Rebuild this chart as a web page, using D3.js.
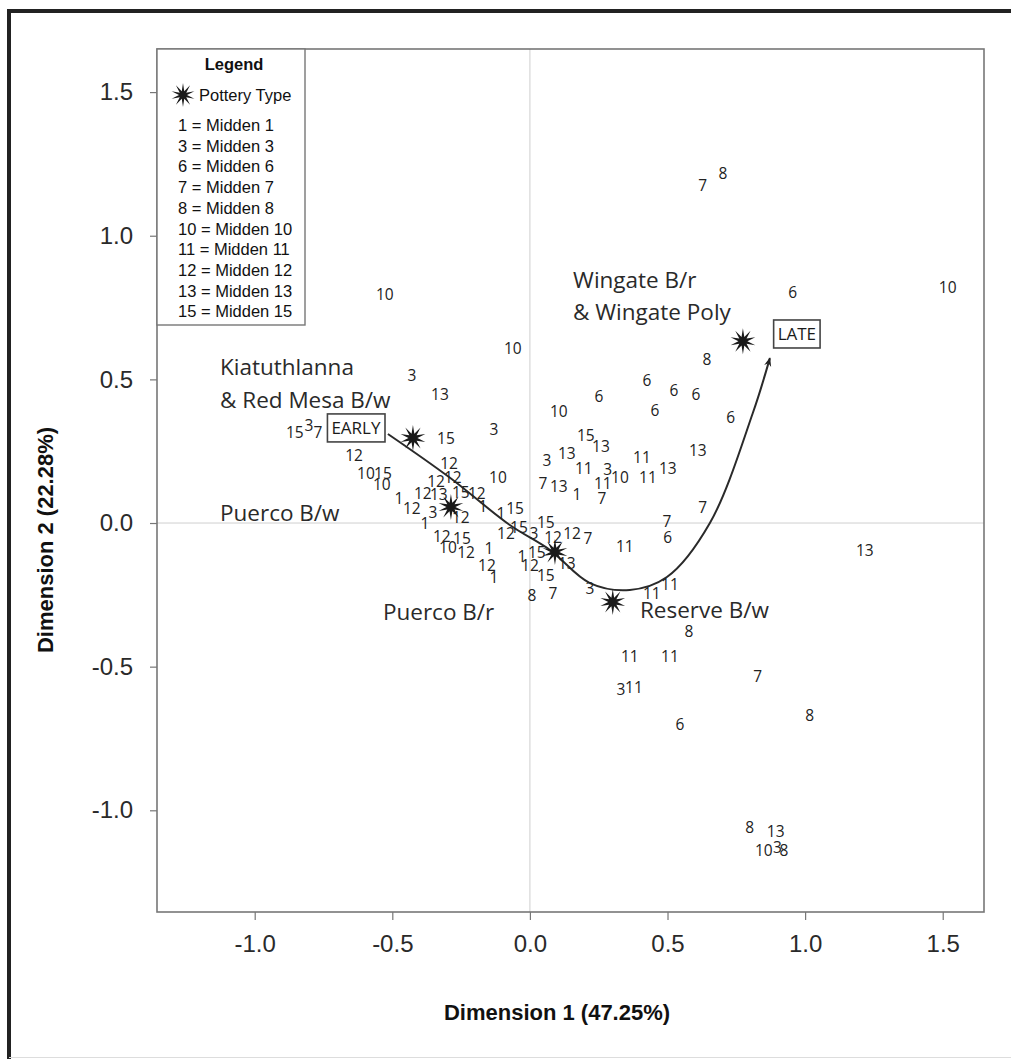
<!DOCTYPE html>
<html>
<head>
<meta charset="utf-8">
<script src="https://cdn.jsdelivr.net/npm/d3@7"></script>
<style>
  html, body { margin: 0; padding: 0; background: #fff; }
  svg { display: block; }
</style>
</head>
<body>
<svg id="chart" width="1011" height="1059"></svg>
<script>
// Correspondence analysis: midden samples (labelled by midden number) and pottery types
const midden = [
  10, 10, 7, 8, 6, 10, 8, 3, 13, 6,
  6, 6, 6, 6, 10, 6, 15, 3, 7, 15,
  3, 15, 13, 13, 12, 3, 13, 11, 11, 3,
  10, 11, 13, 12, 10, 15, 10, 12, 12, 10,
  11, 7, 13, 1, 7, 7, 1, 12, 12, 13,
  15, 12, 3, 1, 12, 1, 1, 15, 15, 12,
  15, 3, 12, 12, 7, 7, 6, 11, 12, 15,
  10, 12, 1, 12, 1, 1, 15, 12, 13, 15,
  3, 8, 7, 11, 11, 13, 8, 11, 11, 3,
  11, 7, 6, 8, 8, 13, 10, 3, 8
];
const dim1 = [
  -0.527, -0.062, 0.628, 0.701, 0.955, 1.518, 0.643, -0.429, -0.327, 0.425,
  0.523, 0.603, 0.251, 0.454, 0.105, 0.730, -0.854, -0.803, -0.770, -0.305,
  -0.131, 0.203, 0.258, 0.610, -0.639, 0.062, 0.134, 0.407, 0.196, 0.283,
  0.327, 0.429, 0.501, -0.294, -0.596, -0.534, -0.538, -0.341, -0.280, -0.116,
  0.265, 0.047, 0.105, 0.171, 0.262, 0.628, -0.476, -0.429, -0.389, -0.331,
  -0.251, -0.193, -0.352, -0.381, -0.251, -0.171, -0.105, -0.054, 0.058, -0.087,
  -0.040, 0.015, 0.084, 0.153, 0.211, 0.498, 0.501, 0.345, -0.320, -0.247,
  -0.298, -0.232, -0.149, -0.156, -0.131, -0.029, 0.025, 0.000, 0.134, 0.058,
  0.218, 0.007, 0.084, 0.443, 0.509, 1.217, 0.578, 0.363, 0.509, 0.331,
  0.378, 0.828, 0.545, 1.017, 0.799, 0.893, 0.850, 0.899, 0.923
];
const dim2 = [
  0.794, 0.609, 1.176, 1.218, 0.801, 0.821, 0.571, 0.515, 0.446, 0.498,
  0.463, 0.446, 0.439, 0.393, 0.390, 0.369, 0.317, 0.341, 0.317, 0.296,
  0.327, 0.306, 0.268, 0.254, 0.237, 0.219, 0.244, 0.230, 0.191, 0.188,
  0.160, 0.160, 0.191, 0.209, 0.171, 0.174, 0.136, 0.146, 0.160, 0.157,
  0.139, 0.139, 0.129, 0.101, 0.087, 0.056, 0.087, 0.052, 0.104, 0.101,
  0.108, 0.104, 0.038, 0.000, 0.021, 0.059, 0.035, 0.052, 0.003, -0.035,
  -0.014, -0.035, -0.049, -0.035, -0.052, 0.007, -0.049, -0.080, -0.045, -0.052,
  -0.084, -0.101, -0.087, -0.146, -0.188, -0.118, -0.101, -0.146, -0.139, -0.181,
  -0.226, -0.251, -0.244, -0.244, -0.212, -0.097, -0.376, -0.466, -0.463, -0.578,
  -0.571, -0.533, -0.700, -0.668, -1.060, -1.075, -1.140, -1.128, -1.140
];

// Pottery-type centroids
const potteryX = [-0.425, -0.287, 0.091, 0.301, 0.774];
const potteryY = [0.296, 0.056, -0.101, -0.275, 0.633];

// Pottery-type captions (left edge, baseline)
const captionText = ["Kiatuthlanna", "& Red Mesa B/w", "Puerco B/w", "Puerco B/r", "Reserve B/w", "Wingate B/r", "& Wingate Poly"];
const captionX = [-1.126, -1.126, -1.126, -0.534, 0.400, 0.157, 0.157];
const captionY = [0.515, 0.400, 0.007, -0.338, -0.331, 0.818, 0.707];

// Seriation trend from early to late
const trendX = [-0.516, -0.294, -0.073, 0.073, 0.218, 0.363, 0.498, 0.654, 0.810, 0.872];
const trendY = [0.310, 0.160, -0.007, -0.094, -0.209, -0.233, -0.188, 0.000, 0.383, 0.574];

const endLabels = ["EARLY", "LATE"];
const endX = [-0.632, 0.970];
const endY = [0.331, 0.658];

const tickValues = [-1.0, -0.5, 0.0, 0.5, 1.0, 1.5];
const legendEntries = [1, 3, 6, 7, 8, 10, 11, 12, 13, 15];

const svg = d3.select("#chart");
const W = 1011, H = 1059;
const plot = { left: 157, top: 49, right: 984, bottom: 912 };

const x = d3.scaleLinear().domain([-1.355, 1.65]).range([plot.left, plot.right]);
const y = d3.scaleLinear().domain([-1.354, 1.65]).range([plot.bottom, plot.top]);

const labelFont = "'Open Sans', 'Noto Sans', sans-serif";
const axisFont = "'Liberation Sans', Arial, sans-serif";

// Page frame
svg.append("rect").attr("x", 0).attr("y", 0).attr("width", W).attr("height", H).attr("fill", "#fff");
svg.append("line").attr("x1", 9).attr("x2", W).attr("y1", 11).attr("y2", 11)
  .attr("stroke", "#222").attr("stroke-width", 4);
svg.append("line").attr("x1", 9).attr("x2", 9).attr("y1", 9).attr("y2", H)
  .attr("stroke", "#222").attr("stroke-width", 4);
svg.append("line").attr("x1", 9).attr("x2", W).attr("y1", 1057.5).attr("y2", 1057.5)
  .attr("stroke", "#ddd").attr("stroke-width", 1);

// Zero reference lines
svg.append("line").attr("x1", x(0)).attr("x2", x(0)).attr("y1", plot.top).attr("y2", plot.bottom)
  .attr("stroke", "#cfcfcf").attr("stroke-width", 1);
svg.append("line").attr("x1", plot.left).attr("x2", plot.right).attr("y1", y(0)).attr("y2", y(0))
  .attr("stroke", "#cfcfcf").attr("stroke-width", 1);

// Axes
const fmt = d => d.toFixed(1);
const gx = svg.append("g").attr("transform", `translate(0,${plot.bottom})`)
  .call(d3.axisBottom(x).tickValues(tickValues).tickFormat(fmt).tickSize(8).tickPadding(15));
const gy = svg.append("g").attr("transform", `translate(${plot.left},0)`)
  .call(d3.axisLeft(y).tickValues(tickValues).tickFormat(fmt).tickSize(7).tickPadding(17));
[gx, gy].forEach(g => {
  g.select(".domain").remove();
  g.selectAll(".tick line").attr("stroke", "#777").attr("stroke-width", 1.2);
  g.selectAll(".tick text").attr("font-family", axisFont).attr("font-size", 24).attr("fill", "#2a2a2a");
});

// Plot border
svg.append("rect").attr("x", plot.left).attr("y", plot.top)
  .attr("width", plot.right - plot.left).attr("height", plot.bottom - plot.top)
  .attr("fill", "none").attr("stroke", "#777").attr("stroke-width", 1.6);

// Axis titles
svg.append("text").attr("x", 557).attr("y", 1020).attr("text-anchor", "middle")
  .attr("font-family", "'Liberation Sans Narrow', 'Arial Narrow', sans-serif")
  .attr("font-weight", "bold").attr("font-size", 22).attr("fill", "#111")
  .text("Dimension 1 (47.25%)");
svg.append("text").attr("transform", "translate(53,540) rotate(-90)").attr("text-anchor", "middle")
  .attr("font-family", "'Liberation Sans Narrow', 'Arial Narrow', sans-serif")
  .attr("font-weight", "bold").attr("font-size", 22).attr("fill", "#111")
  .text("Dimension 2 (22.28%)");

// Star marker for pottery types
function starPath(rOut, rIn, n) {
  const pts = [];
  for (let i = 0; i < 2 * n; i++) {
    const r = i % 2 === 0 ? rOut : rIn;
    const a = Math.PI * i / n - Math.PI / 2;
    pts.push([r * Math.cos(a), r * Math.sin(a)]);
  }
  return "M" + pts.map(p => p[0].toFixed(2) + "," + p[1].toFixed(2)).join("L") + "Z";
}

// Trend curve with arrow
const defs = svg.append("defs");
defs.append("marker").attr("id", "arrow").attr("viewBox", "0 0 10 10")
  .attr("refX", 9).attr("refY", 5).attr("markerWidth", 9).attr("markerHeight", 9)
  .attr("markerUnits", "userSpaceOnUse").attr("orient", "auto")
  .append("path").attr("d", "M0,1 L10,5 L0,9 L3,5 Z").attr("fill", "#222");

const trend = d3.range(trendX.length).map(i => [x(trendX[i]), y(trendY[i])]);
svg.append("path").attr("d", d3.line().curve(d3.curveCatmullRom.alpha(0.5))(trend))
  .attr("fill", "none").attr("stroke", "#2a2a2a").attr("stroke-width", 2)
  .attr("marker-end", "url(#arrow)");

// Midden sample labels
svg.append("g").selectAll("text").data(d3.range(midden.length)).join("text")
  .attr("x", i => x(dim1[i])).attr("y", i => y(dim2[i])).attr("dy", "0.36em")
  .attr("text-anchor", "middle")
  .attr("font-family", labelFont).attr("font-size", 15.5).attr("fill", "#222")
  .text(i => midden[i]);

// Pottery-type stars
svg.append("g").selectAll("path").data(d3.range(potteryX.length)).join("path")
  .attr("transform", i => `translate(${x(potteryX[i])},${y(potteryY[i])})`)
  .attr("d", starPath(13, 4.5, 10)).attr("fill", "#1a1a1a");

// Pottery-type captions
svg.append("g").selectAll("text").data(d3.range(captionText.length)).join("text")
  .attr("x", i => x(captionX[i])).attr("y", i => y(captionY[i]))
  .attr("font-family", labelFont).attr("font-size", 22.5).attr("fill", "#2a2a2a")
  .text(i => captionText[i]);

// EARLY / LATE boxes
endLabels.forEach((t, i) => {
  const g = svg.append("g");
  const txt = g.append("text").attr("x", x(endX[i])).attr("y", y(endY[i])).attr("dy", "0.36em")
    .attr("text-anchor", "middle").attr("font-family", labelFont).attr("font-size", 17)
    .attr("fill", "#1a1a1a").text(t);
  const bb = txt.node().getBBox();
  g.insert("rect", "text").attr("x", bb.x - 4).attr("y", y(endY[i]) - 14)
    .attr("width", bb.width + 8).attr("height", 28)
    .attr("fill", "#fff").attr("stroke", "#444").attr("stroke-width", 1.6);
});

// Legend
const lg = svg.append("g");
lg.append("rect").attr("x", plot.left).attr("y", plot.top).attr("width", 148).attr("height", 276)
  .attr("fill", "#fff").attr("stroke", "#777").attr("stroke-width", 1.4);
lg.append("text").attr("x", 234).attr("y", 70).attr("text-anchor", "middle")
  .attr("font-family", axisFont).attr("font-weight", "bold").attr("font-size", 16.5).attr("fill", "#111")
  .text("Legend");
lg.append("path").attr("transform", "translate(183,95)").attr("d", starPath(12, 4, 10)).attr("fill", "#1a1a1a");
lg.append("text").attr("x", 199).attr("y", 101)
  .attr("font-family", axisFont).attr("font-size", 16.5).attr("fill", "#111").text("Pottery Type");
lg.selectAll("text.entry").data(legendEntries).join("text").attr("class", "entry")
  .attr("x", 178).attr("y", (d, i) => 131 + i * 20.7)
  .attr("font-family", axisFont).attr("font-size", 16.5).attr("fill", "#111")
  .text(d => `${d} = Midden ${d}`);
</script>
</body>
</html>
